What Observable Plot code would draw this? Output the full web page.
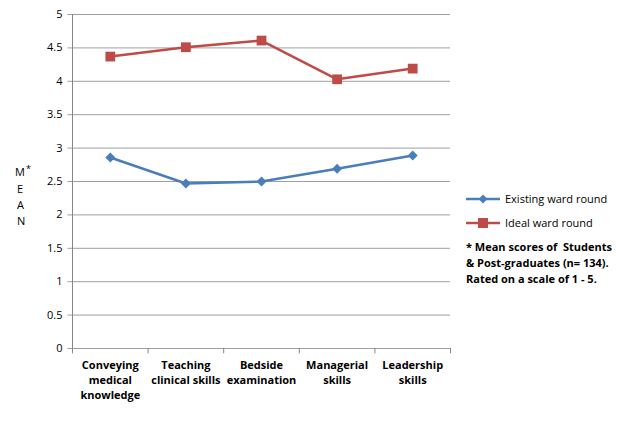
<!DOCTYPE html><html><head><meta charset="utf-8">
<script src="https://cdn.jsdelivr.net/npm/d3@7"></script>
<script src="https://cdn.jsdelivr.net/npm/@observablehq/plot@0.6"></script>
<style>
body{margin:0;background:#fff;font-family:"Open Sans",sans-serif}
#wrap{position:relative;width:622px;height:424px}
</style></head><body><div id="wrap"></div>
<script>
const categories=["Conveying\nmedical\nknowledge","Teaching\nclinical skills","Bedside\nexamination","Managerial\nskills","Leadership\nskills"];
const existing=[2.86,2.47,2.50,2.69,2.89];
const ideal=[4.37,4.51,4.61,4.03,4.19];
const yTicks=[0,0.5,1,1.5,2,2.5,3,3.5,4,4.5,5];
const rows=[];
categories.forEach((c,i)=>{rows.push({i:i+0.5,v:existing[i],s:"Existing ward round"});rows.push({i:i+0.5,v:ideal[i],s:"Ideal ward round"});});
const idx=categories.map((c,i)=>({i:i+0.5,c}));
const bounds=d3.range(categories.length+1);
const blue="#4A7EBB",red="#BE4B48";
const p=Plot.plot({width:622,height:424,marginLeft:72,marginRight:172,marginTop:14,marginBottom:76,
 style:{fontFamily:"Open Sans",fontSize:"11px"},
 x:{type:"linear",domain:[0,categories.length],axis:null},
 y:{type:"linear",domain:[0,5],axis:null},
 color:{domain:["Existing ward round","Ideal ward round"],range:[blue,red]},
 marks:[
  Plot.ruleY(yTicks,{y:d=>d,x1:-0.06,x2:categories.length,stroke:"#868686",strokeWidth:0.8}),
  Plot.ruleX([0],{y1:0,y2:5,stroke:"#868686"}),
  Plot.ruleX(bounds,{x:d=>d,y1:0,y2:-0.08,stroke:"#868686"}),
  Plot.text(yTicks,{x:0,y:d=>d,text:d=>String(d),textAnchor:"end",dx:-10,fontSize:11}),
  Plot.text(idx,{x:"i",y:0,text:"c",lineAnchor:"top",dy:10,fontSize:11,fontWeight:"bold",lineHeight:1.35}),
  Plot.line(rows,{x:"i",y:"v",z:"s",stroke:"s",strokeWidth:2.5}),
  Plot.dot(rows.filter(d=>d.s[0]=="E"),{x:"i",y:"v",symbol:"diamond2",fill:blue,r:4.5}),
  Plot.dot(rows.filter(d=>d.s[0]=="I"),{x:"i",y:"v",symbol:"square",fill:red,r:5.5})
 ]});
const w=document.getElementById("wrap");w.appendChild(p);
const svg=d3.select(p);
const g=svg.append("g").attr("text-anchor","start");
g.append("text").attr("x",15).attr("y",176).attr("font-size",11).text("M");
g.append("text").attr("x",26).attr("y",172).attr("font-size",9).text("*");
["E","A","N"].forEach((t,k)=>g.append("text").attr("x",17).attr("y",193+k*16).attr("font-size",11).text(t));
g.append("line").attr("x1",466).attr("x2",500).attr("y1",199).attr("y2",199).attr("stroke",blue).attr("stroke-width",2.5);
g.append("path").attr("d",d3.symbol(d3.symbolDiamond2,50)()).attr("transform","translate(483,199)").attr("fill",blue);
g.append("line").attr("x1",466).attr("x2",500).attr("y1",223).attr("y2",223).attr("stroke",red).attr("stroke-width",2.5);
g.append("rect").attr("x",478).attr("y",218).attr("width",10).attr("height",10).attr("fill",red);
g.append("text").attr("x",505).attr("y",203).attr("font-size",11).text("Existing ward round");
g.append("text").attr("x",505).attr("y",227).attr("font-size",11).text("Ideal ward round");
["* Mean scores of  Students","& Post-graduates (n= 134).","Rated on a scale of 1 - 5."].forEach((t,k)=>
 g.append("text").attr("x",466).attr("y",251+k*16).attr("font-size",11).attr("font-weight","bold").text(t));
</script></body></html>
